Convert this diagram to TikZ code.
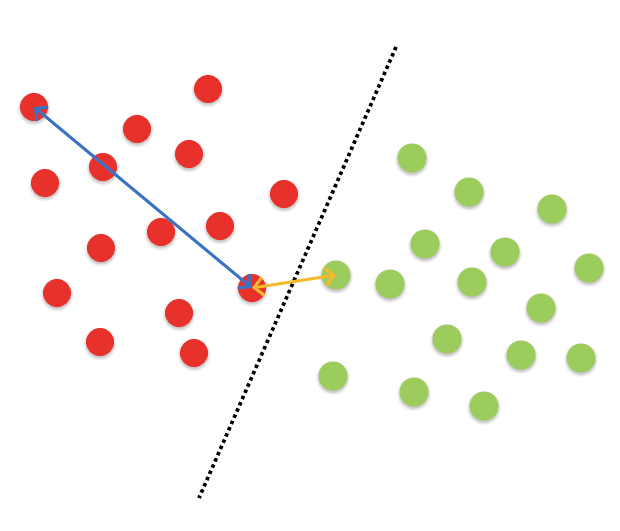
\documentclass[tikz,border=0pt]{standalone}
\usetikzlibrary{arrows.meta,shadows.blur}
\definecolor{dotred}{HTML}{E8312A}
\definecolor{dotgreen}{HTML}{9CCC5C}
\definecolor{arrblue}{HTML}{3A73C4}
\definecolor{arryellow}{HTML}{F5B82E}
\definecolor{shadowblue}{HTML}{8FA8D8}
\tikzset{
  pt/.style={circle, inner sep=0pt, minimum size=28pt,
    blur shadow={shadow xshift=0pt, shadow yshift=-2pt, shadow blur radius=3pt, shadow opacity=30, shadow blur steps=6}},
  rdot/.style={pt, fill=dotred},
  gdot/.style={pt, fill=dotgreen, minimum size=29pt},
  dist/.style={line width=3pt, {Straight Barb[length=9pt,width=18pt]}-{Straight Barb[length=9pt,width=18pt]}},
  sep/.style={line width=3.6pt, dash pattern=on 3.4pt off 3.4pt, black}
}
\begin{document}
\begin{tikzpicture}[x=1pt,y=-1pt]
\useasboundingbox (0,0) rectangle (620,530);
% red points
\node[rdot] (r1) at (34,107) {};
\node[rdot] (r2) at (208,89) {};
\node[rdot] (r3) at (137,129) {};
\node[rdot] (r4) at (189,154) {};
\node[rdot] (r5) at (103,167) {};
\node[rdot] (r6) at (45,183) {};
\node[rdot] (r7) at (284,194) {};
\node[rdot] (r8) at (220,226) {};
\node[rdot] (r9) at (161,232) {};
\node[rdot] (r10) at (101,248) {};
\node[rdot] (r11) at (57,293) {};
\node[rdot] (r12) at (252,288) {};
\node[rdot] (r13) at (179,313) {};
\node[rdot] (r14) at (100,342) {};
\node[rdot] (r15) at (194,353) {};
% green points
\node[gdot] (g1) at (412,158) {};
\node[gdot] (g2) at (469,192) {};
\node[gdot] (g3) at (552,209) {};
\node[gdot] (g4) at (425,244) {};
\node[gdot] (g5) at (505,252) {};
\node[gdot] (g6) at (589,268) {};
\node[gdot] (g7) at (336,275) {};
\node[gdot] (g8) at (390,284) {};
\node[gdot] (g9) at (472,282) {};
\node[gdot] (g10) at (541,308) {};
\node[gdot] (g11) at (447,339) {};
\node[gdot] (g12) at (521,355) {};
\node[gdot] (g13) at (581,358) {};
\node[gdot] (g14) at (333,376) {};
\node[gdot] (g15) at (414,392) {};
\node[gdot] (g16) at (484,406) {};
% separating line
\coordinate (s1) at (396,47);
\coordinate (s2) at (199,498);
\draw[sep] (s1) -- (s2);
% distances
\draw[dist, arrblue] (r12.center) -- (r1.center);
\draw[dist, arryellow] (r12.center) -- (g7.center);
\end{tikzpicture}
\end{document}
